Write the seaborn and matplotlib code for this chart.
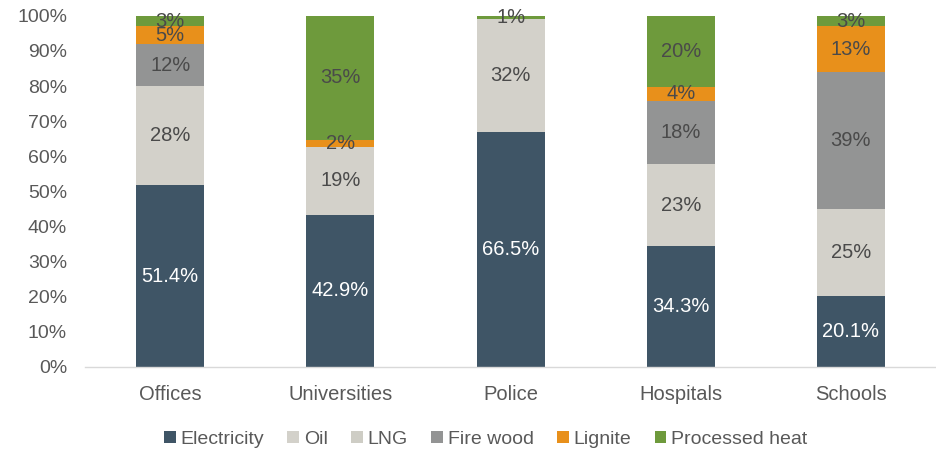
import matplotlib
matplotlib.use("Agg")
import matplotlib.pyplot as plt
from matplotlib.patches import Patch
import seaborn as sns
import pandas as pd
import numpy as np

categories = ["Offices", "Universities", "Police", "Hospitals", "Schools"]
electricity = [51.4, 42.9, 66.5, 34.3, 20.1]
oil = [28, 19, 32, 23, 25]
lng = [0, 0, 0, 0, 0]
fire_wood = [12, 0, 0, 18, 39]
lignite = [5, 2, 0, 4, 13]
processed_heat = [3, 35, 1, 20, 3]

series_names = ["Electricity", "Oil", "LNG", "Fire wood", "Lignite", "Processed heat"]
series_values = [electricity, oil, lng, fire_wood, lignite, processed_heat]
colors = ["#3F5566", "#D3D1CA", "#CECDC5", "#939494", "#E8901B", "#6E9A3C"]
label_colors = ["white", "#4A4A4A", "#4A4A4A", "#4A4A4A", "#4A4A4A", "#4A4A4A"]

sns.set_theme(style="white")
plt.rcParams["font.family"] = ["Liberation Sans", "DejaVu Sans"]

fig = plt.figure(figsize=(9.36, 4.53), dpi=100)
ax = fig.add_axes([0.091, 0.19, 0.909, 0.775])

# 100% stacked: each bar shows shares of its own total
totals = np.sum(np.array(series_values, dtype=float), axis=0)

bottom = np.zeros(len(categories))
for name, vals, col, lcol in zip(series_names, series_values, colors, label_colors):
    share = np.array(vals, dtype=float) / totals * 100
    df = pd.DataFrame({"category": categories, "share": share})
    sns.barplot(data=df, x="category", y="share", color=col, width=0.4,
                bottom=bottom, ax=ax, saturation=1, linewidth=0, errorbar=None)
    for i, v in enumerate(vals):
        if v > 0:
            txt = f"{v:.1f}%" if name == "Electricity" else f"{v:g}%"
            ax.text(i, bottom[i] + share[i] / 2, txt, ha="center", va="center",
                    fontsize=14.5, color=lcol)
    bottom = bottom + share

ax.set_xlim(-0.5, 4.5)
ax.set_ylim(0, 100)
ax.set_yticks(range(0, 101, 10))
ax.set_yticklabels([f"{t}%" for t in range(0, 101, 10)])
ax.set_xlabel("")
ax.set_ylabel("")
ax.tick_params(axis="both", colors="#595959", length=0)
ax.tick_params(axis="x", labelsize=14.5, pad=13)
ax.tick_params(axis="y", labelsize=14, pad=13)
for s in ["top", "right", "left"]:
    ax.spines[s].set_visible(False)
ax.spines["bottom"].set_color("#D9D9D9")
ax.spines["bottom"].set_linewidth(1)

handles = [Patch(facecolor=c, edgecolor="none") for c in colors]
fig.legend(handles, series_names, loc="center", bbox_to_anchor=(0.519, 0.03),
           ncol=6, frameon=False, fontsize=14, handlelength=0.6,
           handleheight=0.6, handletextpad=0.25, columnspacing=1.2,
           labelcolor="#595959")

fig.savefig("out.png", dpi=100)
